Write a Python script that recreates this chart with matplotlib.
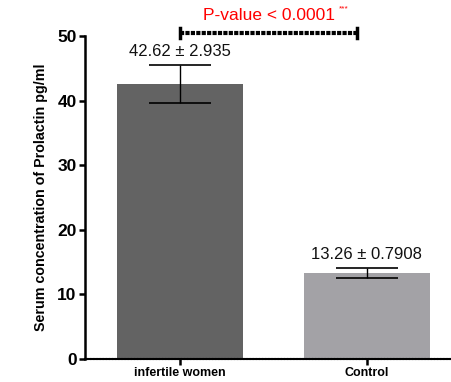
import matplotlib.pyplot as plt
import numpy as np

plt.rcParams['font.family'] = ['Liberation Sans', 'DejaVu Sans']

# data
groups = ['infertile women', 'Control']
means = [42.62, 13.26]
sems = [2.935, 0.7908]
labels = ['42.62 \u00b1 2.935', '13.26 \u00b1 0.7908']
colors = ['#636363', '#a3a2a6']

fig = plt.figure(figsize=(4.52, 3.82), dpi=100)
ax = fig.add_axes([0.188, 0.060, 0.812, 0.846])

x_pos = np.arange(len(groups))
ax.bar(x_pos, means, width=0.675, color=colors, zorder=2)
ax.errorbar(x_pos, means, yerr=sems, fmt='none', ecolor='black',
            elinewidth=1, capsize=22.5, capthick=1.2, zorder=3)

for i in range(len(groups)):
    ax.text(x_pos[i], means[i] + sems[i] + 0.9, labels[i], ha='center',
            va='bottom', fontsize=12, color='#111111')

ax.set_xlim(-0.508, 1.455)
ax.set_ylim(0, 50)
ax.set_yticks([0, 10, 20, 30, 40, 50])
ax.set_xticks(x_pos)
ax.set_xticklabels(groups, fontsize=9, fontweight='bold')
for t in ax.get_yticklabels():
    t.set_fontsize(12.5)
    t.set_fontweight('bold')
ax.set_ylabel('Serum concentration of Prolactin pg/ml', fontsize=10.3,
              fontweight='bold', labelpad=7)

ax.spines['top'].set_visible(False)
ax.spines['right'].set_visible(False)
ax.spines['left'].set_linewidth(1.8)
ax.spines['bottom'].set_linewidth(1.5)
ax.spines['bottom'].set_linestyle((0, (1, 0.5)))
ax.tick_params(axis='both', width=1.8, length=4, pad=2)

# significance bracket
y_br = 50.4
ax.plot([0, 0.947], [y_br, y_br], color='black', lw=3,
        linestyle=(0, (1, 0.3)), clip_on=False)
ax.plot([0, 0], [y_br - 0.8, y_br + 0.8], color='black', lw=2.5, clip_on=False)
ax.plot([0.947, 0.947], [y_br - 0.8, y_br + 0.8], color='black', lw=2.5, clip_on=False)
ax.text(0.475, y_br + 1.6, 'P-value < 0.0001', ha='center', va='bottom',
        color='red', fontsize=12.5, clip_on=False)
ax.text(0.85, y_br + 3.3, '***', ha='left', va='bottom', color='red',
        fontsize=6, clip_on=False)

fig.savefig('out.png', dpi=100)
